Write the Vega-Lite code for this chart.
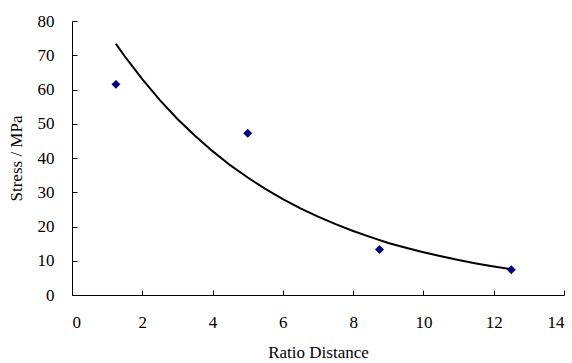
{
  "$schema": "https://vega.github.io/schema/vega-lite/v6.json",
  "width": 492,
  "height": 274,
  "autosize": "none",
  "padding": {"left": 72, "top": 21, "right": 8, "bottom": 68},
  "background": "white",
  "config": {
    "view": {"stroke": null},
    "axis": {
      "grid": false,
      "domainColor": "black",
      "tickColor": "black",
      "labelColor": "black",
      "titleColor": "black",
      "labelFont": "Liberation Serif",
      "titleFont": "Liberation Serif",
      "labelFontSize": 17,
      "titleFontSize": 17,
      "titleFontWeight": "normal",
      "labelOverlap": false,
      "tickSize": -5,
      "domainWidth": 1,
      "tickWidth": 1
    }
  },
  "datasets": {
    "fit": [
      {"x": 1.25, "y": 73.3}, {"x": 1.5, "y": 69.7}, {"x": 2, "y": 63.0}, {"x": 2.5, "y": 56.9},
      {"x": 3, "y": 51.4}, {"x": 3.5, "y": 46.5}, {"x": 4, "y": 42.0}, {"x": 4.5, "y": 37.9},
      {"x": 5, "y": 34.3}, {"x": 5.5, "y": 31.0}, {"x": 6, "y": 28.0}, {"x": 6.5, "y": 25.3},
      {"x": 7, "y": 22.9}, {"x": 7.5, "y": 20.7}, {"x": 8, "y": 18.7}, {"x": 8.5, "y": 16.9},
      {"x": 9, "y": 15.2}, {"x": 9.5, "y": 13.8}, {"x": 10, "y": 12.5}, {"x": 10.5, "y": 11.3},
      {"x": 11, "y": 10.2}, {"x": 11.5, "y": 9.2}, {"x": 12, "y": 8.3}, {"x": 12.5, "y": 7.5}
    ],
    "obs": [
      {"x": 1.25, "y": 61.5}, {"x": 5, "y": 47.2}, {"x": 8.75, "y": 13.3}, {"x": 12.5, "y": 7.4}
    ]
  },
  "encoding": {
    "x": {"field": "x", "type": "quantitative", "scale": {"domain": [0, 14], "nice": false},
          "axis": {"values": [0, 2, 4, 6, 8, 10, 12, 14], "title": "Ratio Distance", "labelPadding": 24, "titlePadding": 14}},
    "y": {"field": "y", "type": "quantitative", "scale": {"domain": [0, 80], "nice": false},
          "axis": {"values": [0, 10, 20, 30, 40, 50, 60, 70, 80], "title": "Stress / MPa", "labelPadding": 23, "titlePadding": 12}}
  },
  "layer": [
    {
      "data": {"name": "fit"},
      "mark": {"type": "line", "color": "black", "strokeWidth": 2}
    },
    {
      "data": {"name": "obs"},
      "mark": {"type": "point", "shape": "diamond", "filled": true, "color": "#000080", "size": 80, "opacity": 1}
    }
  ]
}
